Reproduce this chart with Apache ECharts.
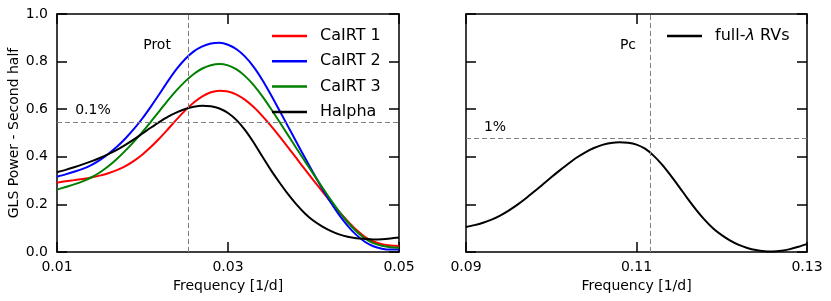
<!DOCTYPE html>
<html><head><meta charset="utf-8">
<script src="https://cdn.jsdelivr.net/npm/echarts@6/dist/echarts.min.js"></script>
<style>html,body{margin:0;padding:0;background:#fff}#c{width:831px;height:301px}</style>
</head><body><div id="c"></div>
<script>
// ---- data ----
const freqLeft = [0.010,0.011,0.012,0.013,0.014,0.015,0.016,0.017,0.018,0.019,
  0.020,0.021,0.022,0.023,0.024,0.025,0.026,0.027,0.028,0.029,
  0.030,0.031,0.032,0.033,0.034,0.035,0.036,0.037,0.038,0.039,
  0.040,0.041,0.042,0.043,0.044,0.045,0.046,0.047,0.048,0.049,0.050];
const caIRT1 = [0.291,0.297,0.302,0.307,0.313,0.321,0.331,0.344,0.361,0.383,
  0.410,0.442,0.478,0.517,0.557,0.595,0.628,0.654,0.671,0.678,
  0.674,0.661,0.639,0.609,0.572,0.531,0.487,0.441,0.394,0.347,
  0.301,0.256,0.212,0.169,0.129,0.093,0.064,0.044,0.033,0.027,0.025];
const caIRT2 = [0.316,0.326,0.337,0.349,0.365,0.386,0.412,0.442,0.477,0.517,
  0.562,0.612,0.665,0.719,0.769,0.811,0.843,0.864,0.876,0.879,
  0.871,0.852,0.821,0.778,0.724,0.662,0.596,0.529,0.462,0.396,
  0.331,0.268,0.209,0.156,0.110,0.072,0.043,0.024,0.014,0.010,0.011];
const caIRT3 = [0.262,0.273,0.284,0.297,0.313,0.334,0.360,0.391,0.426,0.464,
  0.505,0.548,0.593,0.638,0.680,0.717,0.748,0.771,0.785,0.790,
  0.784,0.767,0.739,0.701,0.655,0.603,0.548,0.492,0.436,0.381,
  0.327,0.273,0.220,0.170,0.125,0.087,0.057,0.037,0.026,0.020,0.018];
const halpha = [0.335,0.345,0.356,0.368,0.381,0.395,0.411,0.429,0.450,0.473,
  0.498,0.523,0.547,0.569,0.587,0.601,0.610,0.614,0.612,0.603,
  0.584,0.554,0.512,0.460,0.402,0.345,0.293,0.244,0.200,0.162,
  0.131,0.108,0.089,0.074,0.064,0.058,0.055,0.053,0.054,0.057,0.061];

const freqRight = [0.090,0.091,0.092,0.093,0.094,0.095,0.096,0.097,0.098,0.099,
  0.100,0.101,0.102,0.103,0.104,0.105,0.106,0.107,0.108,0.109,
  0.110,0.111,0.112,0.113,0.114,0.115,0.116,0.117,0.118,0.119,
  0.120,0.121,0.122,0.123,0.124,0.125,0.126,0.127,0.128,0.129,0.130];
const fullRVs = [0.105,0.113,0.123,0.136,0.153,0.174,0.198,0.225,0.254,0.284,
  0.314,0.343,0.371,0.397,0.419,0.437,0.450,0.458,0.461,0.459,
  0.451,0.434,0.405,0.367,0.322,0.274,0.224,0.177,0.135,0.099,
  0.071,0.048,0.030,0.017,0.008,0.003,0.002,0.005,0.012,0.022,0.033];

const seriesNamesLeft = ['CaIRT 1','CaIRT 2','CaIRT 3','Halpha'];
const seriesNameRight = 'full-λ RVs';
const xTicksLeft = [0.01, 0.03, 0.05];
const xTicksRight = [0.09, 0.11, 0.13];
const yTicks = [0.0, 0.2, 0.4, 0.6, 0.8, 1.0];

// reference lines
const protFreq = 0.0254, faLeft = 0.547;
const pcFreq = 0.1116, faRight = 0.479;
// annotation texts: [x, y, text]
const annotLeft = [[0.0217, 0.870, 'Prot'], [0.0142, 0.597, '0.1%']];
const annotRight = [[0.1090, 0.870, 'Pc'], [0.0934, 0.525, '1%']];

// ---- chart ----
const FONT = 'DejaVu Sans';
const zip = (xs, ys) => xs.map((x, i) => [x, ys[i]]);
const black = '#000';
const tickStyle = {show: true, inside: true, length: 10, lineStyle: {color: black, width: 1.5}};
const lineAx = {show: true, onZero: false, lineStyle: {color: black, width: 1.5}};

function xAx(grid, pos, ticks, labels, name) {
  return {
    type: 'value', gridIndex: grid, position: pos,
    min: ticks[0], max: ticks[ticks.length - 1], interval: ticks[1] - ticks[0],
    axisLine: lineAx, axisTick: tickStyle, splitLine: {show: false},
    axisLabel: {show: labels, formatter: v => v.toFixed(2), fontSize: 14, color: black, fontFamily: FONT, margin: 8},
    name: name || '', nameLocation: 'middle', nameGap: 27,
    nameTextStyle: {fontSize: 14, color: black, fontFamily: FONT}
  };
}
function yAx(grid, pos, labels, name) {
  return {
    type: 'value', gridIndex: grid, position: pos,
    min: yTicks[0], max: yTicks[yTicks.length - 1], interval: yTicks[1] - yTicks[0],
    axisLine: lineAx, axisTick: tickStyle, splitLine: {show: false},
    axisLabel: {show: labels, formatter: v => v.toFixed(1), fontSize: 14, color: black, fontFamily: FONT, margin: 9},
    name: name || '', nameLocation: 'middle', nameGap: 36,
    nameTextStyle: {fontSize: 14, color: black, fontFamily: FONT}
  };
}

const colors = ['#ff0000', '#0000ff', '#008000', '#000000'];
const leftData = [caIRT1, caIRT2, caIRT3, halpha];

const series = [];
const guide = (xi, yi, fx, fy) => ({
  type: 'line', xAxisIndex: xi, yAxisIndex: yi, data: [], silent: true,
  markLine: {
    silent: true, symbol: ['none', 'none'], label: {show: false}, precision: 6,
    lineStyle: {color: '#808080', width: 1, type: [5, 3]},
    data: [{xAxis: fx}, {yAxis: fy}]
  }
});
series.push(guide(0, 0, protFreq, faLeft));
series.push(guide(2, 2, pcFreq, faRight));

leftData.forEach((d, i) => series.push({
  name: seriesNamesLeft[i], type: 'line', xAxisIndex: 0, yAxisIndex: 0,
  data: zip(freqLeft, d), showSymbol: false, smooth: 0.3, color: colors[i],
  lineStyle: {width: 2, color: colors[i]}
}));
series.push({
  name: seriesNameRight, type: 'line', xAxisIndex: 2, yAxisIndex: 2,
  data: zip(freqRight, fullRVs), showSymbol: false, smooth: 0.3, color: '#000',
  lineStyle: {width: 2, color: '#000'}
});
const annot = (xi, yi, arr) => ({
  type: 'scatter', xAxisIndex: xi, yAxisIndex: yi, symbolSize: 0, silent: true,
  data: arr, label: {show: true, position: 'inside', formatter: p => p.data[2],
    fontSize: 14, color: black, fontFamily: FONT, textBorderWidth: 0, opacity: 1}
});
series.push(annot(0, 0, annotLeft));
series.push(annot(2, 2, annotRight));

const legendText = {fontSize: 16, lineHeight: 16, color: black, fontFamily: FONT, padding: [0, 0, 0, 8]};
const option = {
  backgroundColor: '#fff',
  animation: false,
  textStyle: {fontFamily: FONT},
  grid: [
    {left: 57, top: 14, width: 342, height: 238, show: false},
    {left: 466, top: 14, width: 341, height: 238, show: false}
  ],
  xAxis: [
    xAx(0, 'bottom', xTicksLeft, true, 'Frequency [1/d]'),
    xAx(0, 'top', xTicksLeft, false),
    xAx(1, 'bottom', xTicksRight, true, 'Frequency [1/d]'),
    xAx(1, 'top', xTicksRight, false)
  ],
  yAxis: [
    yAx(0, 'left', true, 'GLS Power - Second half'),
    yAx(0, 'right', false),
    yAx(1, 'left', false),
    yAx(1, 'right', false)
  ],
  legend: [
    {data: seriesNamesLeft, orient: 'vertical', left: 267, top: 23, icon: 'rect',
     itemWidth: 35, itemHeight: 2.5, itemGap: 9.3, selectedMode: false,
     textStyle: legendText},
    {data: [seriesNameRight], orient: 'vertical', left: 662, top: 23, icon: 'rect',
     itemWidth: 35, itemHeight: 2.5, selectedMode: false,
     formatter: () => '{a|full-}{i|λ}{a| RVs}',
     textStyle: Object.assign({}, legendText, {
       rich: {a: {fontSize: 16, color: black, fontFamily: FONT}, i: {fontSize: 16, color: black, fontFamily: FONT, fontStyle: 'italic'}}})}
  ],
  series: series
};
const chart = echarts.init(document.getElementById('c'), null, {renderer: 'canvas'});
chart.setOption(option);
</script>
</body></html>
